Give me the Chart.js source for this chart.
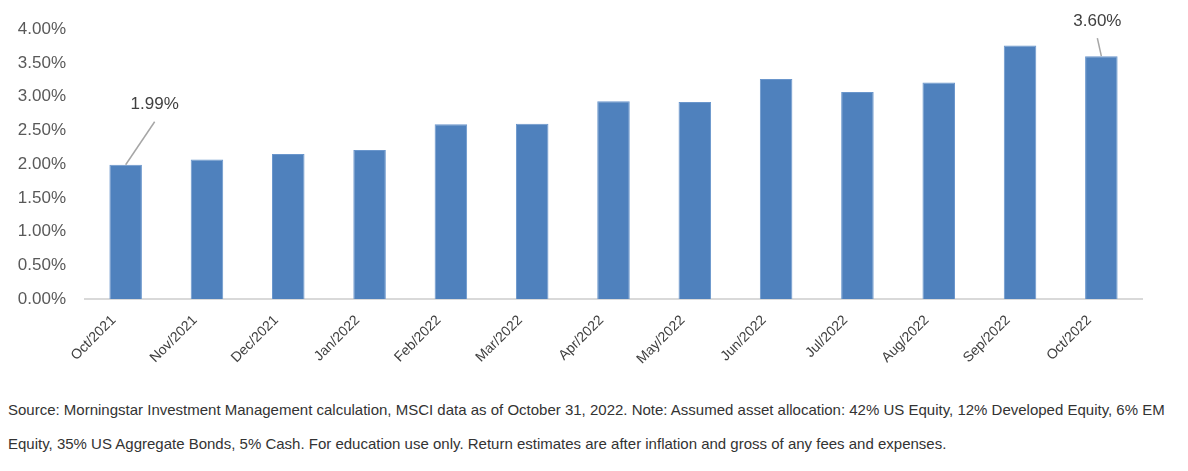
<!DOCTYPE html>
<html>
<head>
<meta charset="utf-8">
<script src="https://cdn.jsdelivr.net/npm/chart.js@4/dist/chart.umd.min.js"></script>
<style>
  body { margin: 0; background: #fff; width: 1188px; height: 471px; overflow: hidden; }
  #wrap { position: relative; width: 1188px; height: 390px; }
  .note { position: absolute; left: 8px; font-family: "Liberation Sans", Arial, sans-serif; font-size: 15px; color: #333; white-space: nowrap; }
</style>
</head>
<body>
<div id="wrap"><canvas id="chart" width="1188" height="390"></canvas></div>
<div class="note" style="top:401px">Source: Morningstar Investment Management calculation, MSCI data as of October 31, 2022. Note: Assumed asset allocation: 42% US Equity, 12% Developed Equity, 6% EM</div>
<div class="note" style="top:435px">Equity, 35% US Aggregate Bonds, 5% Cash. For education use only. Return estimates are after inflation and gross of any fees and expenses.</div>
<script>
const months = ['Oct/2021', 'Nov/2021', 'Dec/2021', 'Jan/2022', 'Feb/2022', 'Mar/2022', 'Apr/2022',
    'May/2022', 'Jun/2022', 'Jul/2022', 'Aug/2022', 'Sep/2022', 'Oct/2022'];
const returns = [1.99, 2.07, 2.15, 2.21, 2.59, 2.60, 2.93, 2.92, 3.26, 3.07, 3.21, 3.76, 3.60];
const yTicks = [0, 0.5, 1, 1.5, 2, 2.5, 3, 3.5, 4];
const labelled = [0, 12];

const font = '"Liberation Sans", Arial, sans-serif';
const ctx = document.getElementById('chart').getContext('2d');

// callout labels with leader lines
const callouts = {
    id: 'callouts',
    afterDatasetsDraw(chart) {
        const c = chart.ctx;
        const meta = chart.getDatasetMeta(0);
        c.save();
        c.font = '17px ' + font;
        c.fillStyle = '#404040';
        c.strokeStyle = '#a6a6a6';
        c.lineWidth = 1.5;
        c.textAlign = 'center';
        c.textBaseline = 'middle';
        labelled.forEach(i => {
            const bar = meta.data[i];
            const txt = returns[i].toFixed(2) + '%';
            // first one sits up and to the right, last one straight above
            const dx = i === 0 ? 29 : -4;
            const dy = i === 0 ? -60 : -35;
            c.beginPath();
            c.moveTo(bar.x, bar.y);
            c.lineTo(bar.x + dx, bar.y + dy + 17);
            c.stroke();
            c.fillText(txt, bar.x + dx, bar.y + dy);
        });
        c.restore();
    }
};

const chart = new Chart(ctx, {
    type: 'bar',
    data: {
        labels: months,
        datasets: [{
            data: returns,
            backgroundColor: '#4f81bd',
            borderColor: '#6a96cc',
            borderWidth: 1,
            categoryPercentage: 1,
            barPercentage: 0.4
        }]
    },
    options: {
        responsive: false,
        animation: false,
        layout: { padding: { top: 28, right: 46, left: 0, bottom: 0 } },
        plugins: { legend: { display: false }, tooltip: { enabled: false } },
        scales: {
            x: {
                grid: { display: false, drawTicks: false },
                border: { color: '#d9d9d9', width: 2 },
                ticks: {
                    minRotation: 45, maxRotation: 45, padding: 13, labelOffset: -12,
                    color: '#404040', font: { family: font, size: 14 }
                },
                afterFit(scale) { scale.height = 91; }
            },
            y: {
                min: 0, max: 4,
                grid: { display: false, drawTicks: false },
                border: { display: false },
                afterBuildTicks(scale) { scale.ticks = yTicks.map(v => ({ value: v })); },
                ticks: {
                    padding: 19,
                    color: '#595959', font: { family: font, size: 17 },
                    callback: v => v.toFixed(2) + '%'
                },
                afterFit(scale) { scale.width = 85; }
            }
        }
    },
    plugins: [callouts]
});
</script>
</body>
</html>
